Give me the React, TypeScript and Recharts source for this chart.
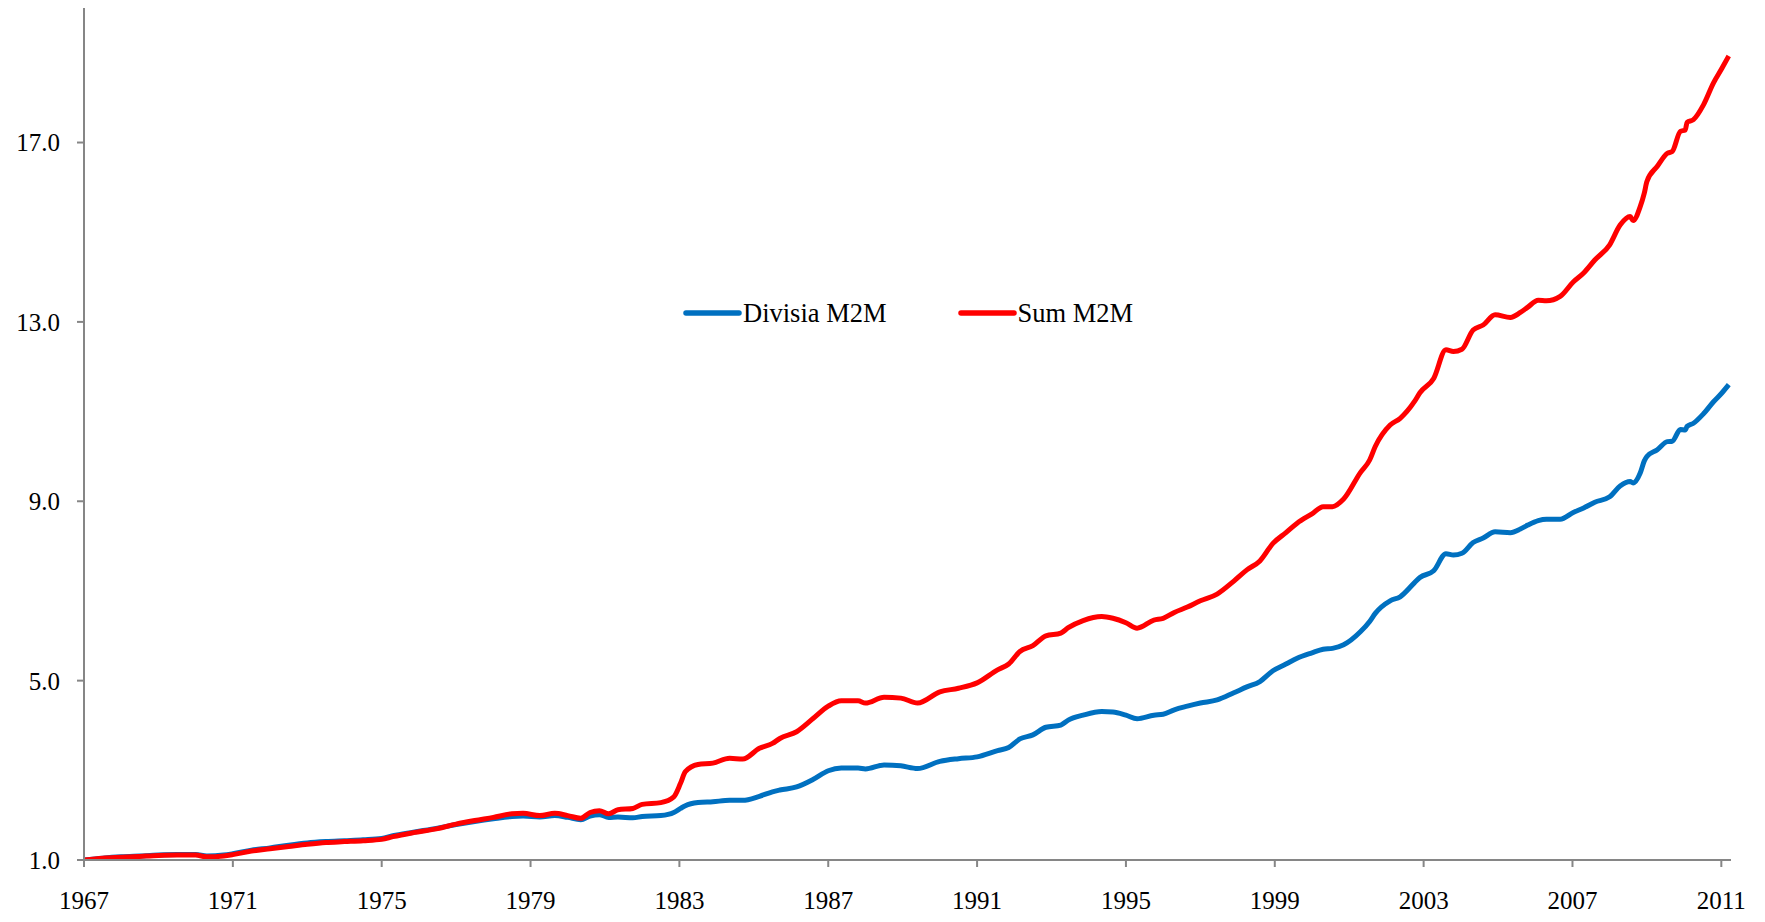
import React from 'react';
import { LineChart, Line, XAxis, YAxis } from 'recharts';

const years = [
  1967.0, 1967.5, 1968.0, 1968.5, 1969.0, 1969.5, 1970.0, 1970.3, 1970.75, 1971.0,
  1971.5, 1972.0, 1972.5, 1973.0, 1973.5, 1974.0, 1974.5, 1975.0, 1975.3, 1975.85,
  1976.5, 1977.0, 1977.5, 1978.0, 1978.5, 1978.8, 1979.25, 1979.65, 1980.0, 1980.35,
  1980.6, 1980.85, 1981.1, 1981.35, 1981.75, 1982.0, 1982.5, 1982.85, 1983.03, 1983.16,
  1983.5, 1983.9, 1984.35, 1984.7, 1985.15, 1985.5, 1985.7, 1986.15, 1986.6, 1987.0,
  1987.35, 1987.8, 1988.0, 1988.5, 1988.95, 1989.4, 1990.0, 1990.5, 1991.0, 1991.55,
  1991.85, 1992.15, 1992.5, 1992.85, 1993.25, 1993.45, 1993.85, 1994.35, 1994.65, 1995.0,
  1995.3, 1995.75, 1996.0, 1996.3, 1996.65, 1997.0, 1997.45, 1997.9, 1998.25, 1998.6,
  1998.95, 1999.3, 1999.6, 2000.0, 2000.3, 2000.55, 2000.85, 2001.3, 2001.55, 2001.7,
  2002.1, 2002.37, 2002.75, 2002.9, 2003.27, 2003.6, 2003.8, 2004.03, 2004.33, 2004.6,
  2004.92, 2005.33, 2005.6, 2005.8, 2006.08, 2006.3, 2006.67, 2007.02, 2007.3, 2007.6,
  2008.0, 2008.28, 2008.55, 2008.63, 2008.82, 2008.93, 2009.0, 2009.28, 2009.55, 2009.68,
  2009.9, 2010.03, 2010.08, 2010.25, 2010.52, 2010.79, 2011.02, 2011.2,
];

const sumM2M = [
  1.0, 1.04, 1.06, 1.08, 1.1, 1.11, 1.11, 1.07, 1.09, 1.12,
  1.2, 1.25, 1.3, 1.35, 1.39, 1.41, 1.43, 1.46, 1.52, 1.61,
  1.7, 1.8, 1.88, 1.95, 2.03, 2.04, 1.99, 2.04, 1.99, 1.93,
  2.06, 2.1, 2.03, 2.12, 2.15, 2.24, 2.28, 2.41, 2.71, 2.97,
  3.13, 3.16, 3.27, 3.25, 3.49, 3.6, 3.71, 3.86, 4.16, 4.43,
  4.55, 4.55, 4.5, 4.63, 4.61, 4.5, 4.75, 4.83, 4.95, 5.24,
  5.37, 5.65, 5.78, 6.0, 6.06, 6.18, 6.34, 6.43, 6.39, 6.29,
  6.17, 6.35, 6.39, 6.52, 6.64, 6.78, 6.93, 7.22, 7.47, 7.67,
  8.06, 8.3, 8.51, 8.72, 8.88, 8.88, 9.05, 9.64, 9.92, 10.22,
  10.7, 10.85, 11.22, 11.42, 11.74, 12.38, 12.34, 12.39, 12.82, 12.93,
  13.16, 13.1, 13.21, 13.33, 13.48, 13.47, 13.57, 13.89, 14.09, 14.38,
  14.72, 15.16, 15.35, 15.26, 15.57, 15.87, 16.13, 16.47, 16.76, 16.8,
  17.25, 17.28, 17.45, 17.51, 17.84, 18.33, 18.66, 18.93,
];

const divisiaM2M = [
  1.0, 1.04, 1.07, 1.09, 1.11, 1.12, 1.12, 1.09, 1.11, 1.14,
  1.22, 1.27, 1.33, 1.38, 1.41, 1.43, 1.45, 1.48, 1.54, 1.62,
  1.71, 1.79, 1.86, 1.92, 1.97, 1.98, 1.96, 1.99, 1.95, 1.9,
  1.98, 2.01, 1.95, 1.96, 1.94, 1.97, 1.99, 2.06, 2.15, 2.21,
  2.28, 2.3, 2.33, 2.33, 2.42, 2.52, 2.56, 2.63, 2.8, 2.99,
  3.05, 3.05, 3.03, 3.12, 3.1, 3.04, 3.2, 3.26, 3.3, 3.44,
  3.51, 3.7, 3.79, 3.96, 4.01, 4.12, 4.23, 4.31, 4.3, 4.23,
  4.15, 4.23, 4.25, 4.35, 4.43, 4.5, 4.57, 4.73, 4.86, 4.98,
  5.22, 5.37, 5.5, 5.62, 5.7, 5.72, 5.8, 6.09, 6.32, 6.5,
  6.78, 6.87, 7.18, 7.3, 7.45, 7.83, 7.8, 7.84, 8.08, 8.18,
  8.32, 8.3, 8.38, 8.47, 8.57, 8.6, 8.6, 8.75, 8.85, 8.98,
  9.1, 9.34, 9.44, 9.41, 9.63, 9.9, 10.0, 10.15, 10.33, 10.34,
  10.6, 10.59, 10.67, 10.74, 10.95, 11.22, 11.42, 11.6,
];

const xTicks = [1967, 1971, 1975, 1979, 1983, 1987, 1991, 1995, 1999, 2003, 2007, 2011];
const yTicks = [1, 5, 9, 13, 17];

const seriesNames = ['Divisia M2M', 'Sum M2M'];
const seriesColors = ['#0070C0', '#FF0000'];

const data = years.map((y, i) => ({ year: y, divisia: divisiaM2M[i], sum: sumM2M[i] }));

const FONT = '"Liberation Serif", "Times New Roman", serif';
const AXIS = '#868686';

function LegendOverlay() {
  return (
    <div
      style={{
        position: 'absolute',
        left: 682,
        top: 298,
        height: 30,
        display: 'flex',
        alignItems: 'center',
        fontFamily: FONT,
        fontSize: 26.5,
        color: '#000',
        whiteSpace: 'nowrap',
      }}
    >
      {seriesNames.map((name, i) => (
        <div key={name} style={{ display: 'flex', alignItems: 'center', marginRight: i === 0 ? 70 : 0 }}>
          <svg width={61} height={10} style={{ display: 'block' }}>
            <line x1={4} y1={5} x2={57} y2={5} stroke={seriesColors[i]} strokeWidth={5.5} strokeLinecap="round" />
          </svg>
          <span>{name}</span>
        </div>
      ))}
    </div>
  );
}

export default function App() {
  return (
    <div style={{ position: 'absolute', left: 0, top: 0, width: 1765, height: 922, background: '#fff' }}>
      <LineChart
        width={1765}
        height={922}
        data={data}
        margin={{ top: 8, right: 34, left: 0, bottom: 0 }}
      >
        <XAxis
          dataKey="year"
          type="number"
          domain={[1967, 2011.26]}
          ticks={xTicks}
          allowDataOverflow
          height={62}
          tickSize={7}
          tickMargin={24}
          axisLine={{ stroke: AXIS, strokeWidth: 2 }}
          tickLine={{ stroke: AXIS, strokeWidth: 2 }}
          tick={{ fill: '#000', fontSize: 25, fontFamily: FONT }}
        />
        <YAxis
          type="number"
          domain={[1, 20]}
          ticks={yTicks}
          allowDataOverflow
          width={84}
          tickSize={7}
          tickMargin={17}
          tickFormatter={(v: number) => v.toFixed(1)}
          axisLine={{ stroke: AXIS, strokeWidth: 2 }}
          tickLine={{ stroke: AXIS, strokeWidth: 2 }}
          tick={{ fill: '#000', fontSize: 25, fontFamily: FONT }}
        />
        <Line
          type="monotone"
          dataKey="divisia"
          name={seriesNames[0]}
          stroke={seriesColors[0]}
          strokeWidth={5}
          dot={false}
          isAnimationActive={false}
        />
        <Line
          type="monotone"
          dataKey="sum"
          name={seriesNames[1]}
          stroke={seriesColors[1]}
          strokeWidth={5}
          dot={false}
          isAnimationActive={false}
        />
      </LineChart>
      <LegendOverlay />
    </div>
  );
}
